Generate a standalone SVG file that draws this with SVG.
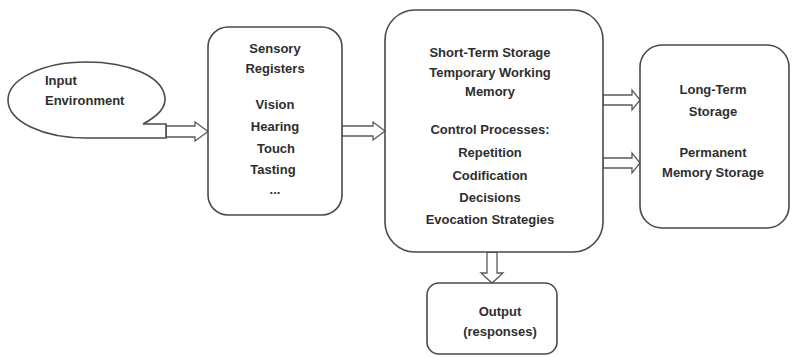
<svg xmlns="http://www.w3.org/2000/svg" width="792" height="357" viewBox="0 0 792 357">
<style>
.box{fill:#fff;stroke:#4a4a4a;stroke-width:1.6}
.arr{fill:#fff;stroke:#5a5a5a;stroke-width:1.3;stroke-linejoin:miter}
text{font-family:"Liberation Sans",Arial,sans-serif;font-weight:bold;font-size:13px;fill:#2e2e2e}
.c{text-anchor:middle}
</style>
<rect width="792" height="357" fill="#fff"/>
<g id="connectors">
<path class="arr" d="M166,126 H195 V122 L208,131.5 L195,141 V137 H166 Z"/>
<path class="arr" d="M342,126 H373 V122 L385,131 L373,140 V136 H342 Z"/>
<path class="arr" d="M603,95 H632 V90 L640,100 L632,110 V105 H603 Z"/>
<path class="arr" d="M603,158 H632 V153 L640,163 L632,173 V168 H603 Z"/>
<path class="arr" d="M487,252 V273 H481 L492,283 L503,273 H497 V252 Z"/>
</g>
<g id="input">
<path class="box" d="M143,124 C158,116 166,108 165,98 C163,76 128,62 86,62 C43,62 8,79 8,100 C8,122 44,138 86,138 H166 V124 Z"/>
<text x="45" y="85">Input</text>
<text x="45" y="105">Environment</text>
</g>
<g id="sensory">
<rect class="box" x="208" y="27" width="134" height="188" rx="20"/>
<text class="c" x="275" y="53">Sensory</text>
<text class="c" x="275" y="73">Registers</text>
<text class="c" x="275" y="109">Vision</text>
<text class="c" x="275" y="131">Hearing</text>
<text class="c" x="276" y="153">Touch</text>
<text class="c" x="273" y="174">Tasting</text>
<text class="c" x="275" y="194">...</text>
</g>
<g id="shortterm">
<rect class="box" x="385" y="10" width="218" height="242" rx="30"/>
<text class="c" x="490" y="57">Short-Term Storage</text>
<text class="c" x="490" y="77">Temporary Working</text>
<text class="c" x="490" y="96">Memory</text>
<text class="c" x="490" y="134">Control Processes:</text>
<text class="c" x="490" y="157">Repetition</text>
<text class="c" x="490" y="180">Codification</text>
<text class="c" x="490" y="202">Decisions</text>
<text class="c" x="490" y="224">Evocation Strategies</text>
</g>
<g id="longterm">
<rect class="box" x="640" y="45" width="149" height="183" rx="22"/>
<text class="c" x="713" y="94">Long-Term</text>
<text class="c" x="713" y="116">Storage</text>
<text class="c" x="713" y="157">Permanent</text>
<text class="c" x="713" y="177">Memory Storage</text>
</g>
<g id="output">
<rect class="box" x="427" y="283" width="130" height="71" rx="12"/>
<text class="c" x="500" y="316">Output</text>
<text class="c" x="500" y="336">(responses)</text>
</g>
</svg>
